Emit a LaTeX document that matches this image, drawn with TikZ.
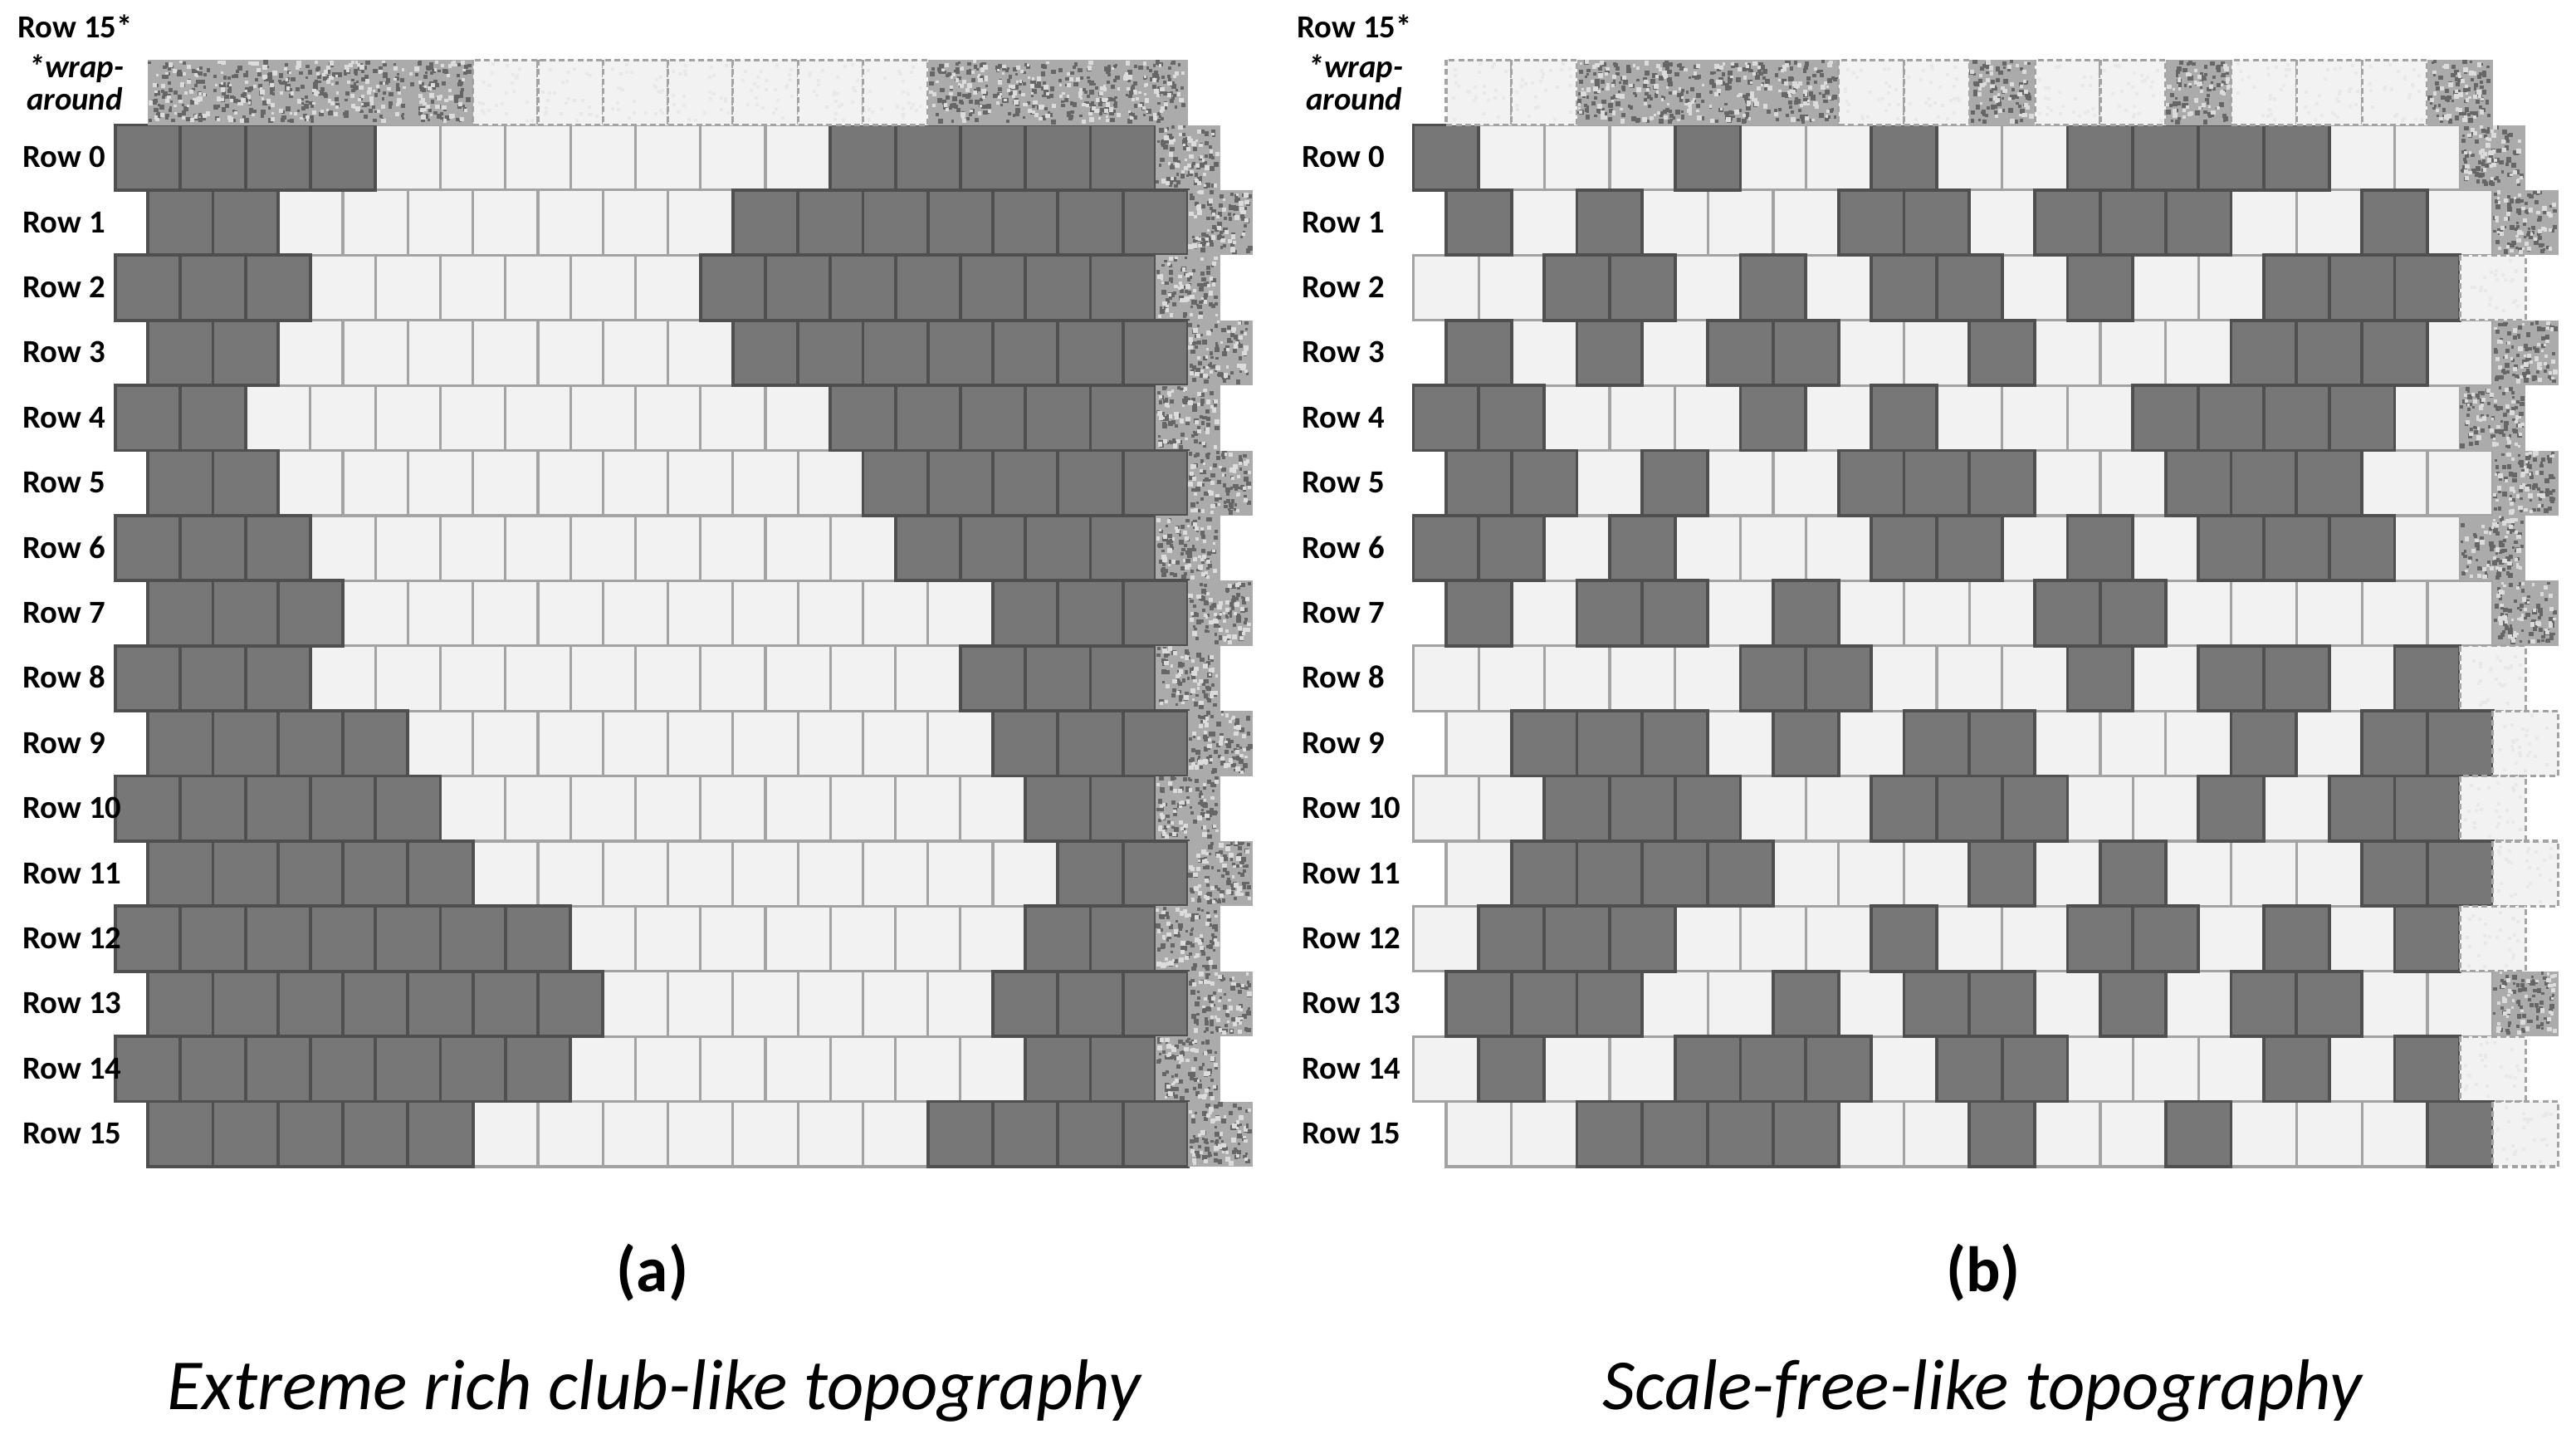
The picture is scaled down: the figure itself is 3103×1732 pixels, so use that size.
\documentclass[tikz,border=0pt]{standalone}
\usepackage{fontspec}
\setmainfont{Carlito}
\definecolor{darkfill}{HTML}{777777}
\definecolor{darkline}{HTML}{4F4F4F}
\definecolor{lightfill}{HTML}{F2F2F2}
\definecolor{lightline}{HTML}{A3A3A3}
\definecolor{granbase}{HTML}{ABABAB}
\definecolor{grandark}{HTML}{666666}
\definecolor{granlight}{HTML}{DCDCDC}
\tikzset{
  darkbrick/.style={fill=darkfill, draw=darkline, line width=1.1pt},
  lightbrick/.style={fill=lightfill, draw=lightline, line width=0.9pt},
  ghostbrick/.style={fill=lightfill, draw=lightline, line width=0.9pt, dash pattern=on 2pt off 1.2pt},
  rowlabel/.style={font=\bfseries\fontsize{11}{13}\selectfont, anchor=base west, inner sep=0pt},
  wraplabel/.style={font=\bfseries\itshape\fontsize{11}{13}\selectfont, anchor=base, inner sep=0pt},
  panellabel/.style={font=\bfseries\fontsize{22}{26}\selectfont, inner sep=0pt},
  captionlabel/.style={font=\itshape\fontsize{24.6}{29}\selectfont, anchor=base, inner sep=0pt},
}
\def\getfirstcell#1,#2\relax{#1}
\newcommand\granitecell[4]{%
  \fill[granbase] (#1,#2) rectangle ++(#3,#4);
  \foreach \k in {1,...,70}{%
    \pgfmathsetmacro\gpx{#1+rnd*(#3-6)}%
    \pgfmathsetmacro\gpy{#2+rnd*(#4-6)}%
    \pgfmathsetmacro\gsz{3+3*rnd}%
    \fill[grandark] (\gpx,\gpy) rectangle ++(\gsz,\gsz);
  }%
  \foreach \k in {1,...,40}{%
    \pgfmathsetmacro\gpx{#1+rnd*(#3-6)}%
    \pgfmathsetmacro\gpy{#2+rnd*(#4-6)}%
    \pgfmathsetmacro\gsz{3+3*rnd}%
    \fill[granlight] (\gpx,\gpy) rectangle ++(\gsz,\gsz);
  }%
}
\newcommand\ghostcell[4]{%
  \path[ghostbrick] (#1,#2) rectangle ++(#3,#4);
  \foreach \k in {1,...,25}{%
    \pgfmathsetmacro\gpx{#1+3+rnd*(#3-10)}%
    \pgfmathsetmacro\gpy{#2+3+rnd*(#4-10)}%
    \fill[gray!18] (\gpx,\gpy) rectangle ++(4,4);
  }%
}
\newcommand\drawpanel[4]{%
  \foreach \r/\cells in {#3}{%
    \pgfmathsetmacro\xs{#1+mod(\r,2)*#2/2}%
    \pgfmathsetmacro\ys{150.5+\r*78.4}%
    \foreach \c [count=\i from 0] in \cells {%
      \ifnum\c=0 \path[lightbrick] (\xs+\i*#2,\ys) rectangle ++(#2,78.4);\fi
    }%
  }%
  \foreach \r/\cells in {#3}{%
    \pgfmathsetmacro\xs{#1+mod(\r,2)*#2/2}%
    \pgfmathsetmacro\ys{150.5+\r*78.4}%
    \foreach \c [count=\i from 0] in \cells {%
      \ifnum\c=1 \path[darkbrick] (\xs+\i*#2,\ys) rectangle ++(#2,78.4);\fi
    }%
    \edef\fc{\expandafter\getfirstcell\cells\relax}%
    \ifnum\fc=1 \granitecell{\xs+16*#2}{\ys}{#2}{78.4}\else\ghostcell{\xs+16*#2}{\ys}{#2}{78.4}\fi
  }%
  \pgfmathsetmacro\xs{#1+#2/2}%
  \foreach \c [count=\i from 0] in {#4} {%
    \ifnum\c=1 \granitecell{\xs+\i*#2}{72.1}{#2}{78.4}\else\ghostcell{\xs+\i*#2}{72.1}{#2}{78.4}\fi
  }%
}
\begin{document}
\begin{tikzpicture}[x=0.01cm,y=-0.01cm]
\pgfmathsetseed{4711}
\fill[white] (0,0) rectangle (3103,1732);
\useasboundingbox (0,0) rectangle (3103,1732);
% panel (a)
\drawpanel{139}{78.3}{%
0/{1,1,1,1,0,0,0,0,0,0,0,1,1,1,1,1},%
1/{1,1,0,0,0,0,0,0,0,1,1,1,1,1,1,1},%
2/{1,1,1,0,0,0,0,0,0,1,1,1,1,1,1,1},%
3/{1,1,0,0,0,0,0,0,0,1,1,1,1,1,1,1},%
4/{1,1,0,0,0,0,0,0,0,0,0,1,1,1,1,1},%
5/{1,1,0,0,0,0,0,0,0,0,0,1,1,1,1,1},%
6/{1,1,1,0,0,0,0,0,0,0,0,0,1,1,1,1},%
7/{1,1,1,0,0,0,0,0,0,0,0,0,0,1,1,1},%
8/{1,1,1,0,0,0,0,0,0,0,0,0,0,1,1,1},%
9/{1,1,1,1,0,0,0,0,0,0,0,0,0,1,1,1},%
10/{1,1,1,1,1,0,0,0,0,0,0,0,0,0,1,1},%
11/{1,1,1,1,1,0,0,0,0,0,0,0,0,0,1,1},%
12/{1,1,1,1,1,1,1,0,0,0,0,0,0,0,1,1},%
13/{1,1,1,1,1,1,1,0,0,0,0,0,0,1,1,1},%
14/{1,1,1,1,1,1,1,0,0,0,0,0,0,0,1,1},%
15/{1,1,1,1,1,0,0,0,0,0,0,0,1,1,1,1}%
}{1,1,1,1,1,0,0,0,0,0,0,0,1,1,1,1}
% panel (b)
\drawpanel{1702.5}{78.8}{%
0/{1,0,0,0,1,0,0,1,0,0,1,1,1,1,0,0},%
1/{1,0,1,0,0,0,1,1,0,1,1,1,0,0,1,0},%
2/{0,0,1,1,0,1,0,1,1,0,1,0,0,1,1,1},%
3/{1,0,1,0,1,1,0,0,1,0,0,0,1,1,1,0},%
4/{1,1,0,0,0,1,0,1,0,0,0,1,1,1,1,0},%
5/{1,1,0,1,0,0,1,1,1,0,0,1,1,1,0,0},%
6/{1,1,0,1,0,0,0,1,1,0,1,0,1,1,1,0},%
7/{1,0,1,1,0,1,0,0,0,1,1,0,0,0,0,0},%
8/{0,0,0,0,0,1,1,0,0,0,1,0,1,1,0,1},%
9/{0,1,1,1,0,1,0,1,1,0,0,0,1,0,1,1},%
10/{0,0,1,1,1,0,0,1,1,1,0,0,1,0,1,1},%
11/{0,1,1,1,1,0,0,0,1,0,1,0,0,0,1,1},%
12/{0,1,1,1,0,0,0,1,0,0,1,1,0,1,0,1},%
13/{1,1,1,0,0,1,0,1,1,0,1,0,1,1,0,0},%
14/{0,1,0,0,1,1,1,0,1,1,0,0,0,1,0,1},%
15/{0,0,1,1,1,1,0,0,1,0,0,1,0,0,0,1}%
}{0,0,1,1,1,1,0,0,1,0,0,1,0,0,0,1}
% row labels
\foreach \r in {0,...,15}{%
  \node[rowlabel] (la\r) at (27,{150.5+\r*78.4+39.2+12}) {Row \r};
  \node[rowlabel] (lb\r) at (1568,{150.5+\r*78.4+39.2+12}) {Row \r};
}
\node[rowlabel] (latop) at (21,45) {Row 15*};
\node[wraplabel] (lawrap) at (92,93) {*wrap-};
\node[wraplabel] (laround) at (90,132) {around};
\node[rowlabel] (lbtop) at (1562,45) {Row 15*};
\node[wraplabel] (lbwrap) at (1633,93) {*wrap-};
\node[wraplabel] (lbround) at (1631,132) {around};
% panel titles
\node[panellabel] (pa) at (786,1533) {(a)};
\node[panellabel] (pb) at (2389,1533) {(b)};
\node[captionlabel] (ca) at (788,1697) {Extreme rich club-like topography};
\node[captionlabel] (cb) at (2388,1697) {Scale-free-like topography};
\end{tikzpicture}
\end{document}
